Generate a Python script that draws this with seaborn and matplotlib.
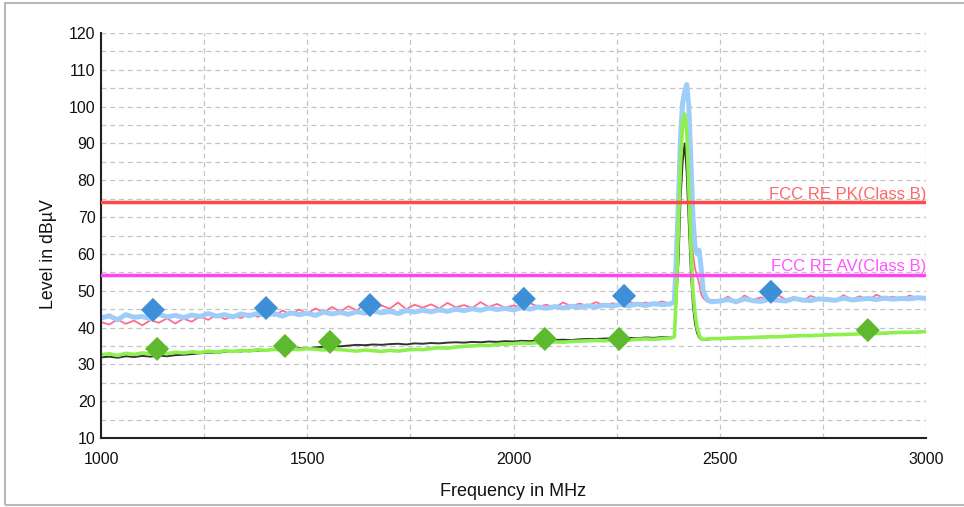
import numpy as np
import pandas as pd
import seaborn as sns
import matplotlib.pyplot as plt
from matplotlib.patches import Rectangle
from matplotlib.ticker import MultipleLocator, FixedLocator

# Frequency sampling grid (MHz)
freq_low = np.arange(1000, 2381, 20)
freq_peak = [2390, 2395, 2400, 2405, 2410, 2415, 2420, 2425, 2430, 2435, 2440, 2445, 2450, 2455, 2460, 2470, 2480]
freq_high = np.arange(2500, 3001, 20)
freq = np.concatenate([freq_low, freq_peak, freq_high])

# Peak trace (pink)
pk_low = [41.5, 40.8, 42.2, 41.0, 41.9, 40.6, 42.0, 41.3, 42.5, 41.1,
          42.4, 41.6, 43.0, 42.1, 43.4, 42.3, 43.1, 42.6, 43.8, 42.9,
          43.9, 43.2, 44.6, 43.5, 44.9, 43.8, 45.2, 44.1, 45.6, 44.3,
          45.8, 44.6, 46.5, 44.9, 46.0, 45.1, 46.8, 45.0, 46.2, 45.4,
          46.3, 45.2, 46.7, 45.5, 46.1, 45.3, 46.9, 45.6, 46.4, 45.4,
          46.0, 45.5, 46.6, 45.7, 46.2, 45.4, 46.8, 45.8, 46.5, 45.9,
          46.9, 46.0, 46.6, 46.2, 47.0, 46.3, 46.8, 46.4, 47.1, 46.5]
pk_peak = [46.5, 55, 70, 85, 93, 96, 95, 85, 70, 60, 56, 54, 52, 49, 48, 47, 47.5]
pk_high = [47.2, 48.4, 47.0, 48.7, 47.5, 48.2, 47.3, 48.9, 47.6, 48.3, 47.1, 48.6, 47.8,
           48.1, 47.4, 48.8, 47.7, 48.5, 47.5, 48.9, 47.9, 48.4, 47.6, 48.7, 48.0, 48.3]

# Max-hold trace (light blue)
mh_low = [42.6, 43.2, 42.1, 43.5, 42.8, 43.0, 42.4, 43.6, 42.9, 43.3,
          42.7, 43.4, 43.0, 43.8, 43.1, 43.5, 42.9, 43.7, 43.2, 43.9,
          43.4, 43.8, 43.1, 44.0, 43.5, 43.9, 43.3, 44.2, 43.7, 44.1,
          43.6, 44.3, 43.9, 44.5, 44.0, 44.4, 43.8, 44.6, 44.2, 44.7,
          44.3, 44.8, 44.4, 45.0, 44.6, 45.1, 44.7, 45.3, 44.9, 45.2,
          44.8, 45.4, 45.0, 45.6, 45.2, 45.7, 45.3, 45.8, 45.5, 45.9,
          45.6, 46.1, 45.8, 46.3, 45.9, 46.4, 46.0, 46.5, 46.2, 46.4]
mh_peak = [47, 60, 75, 92, 101, 104, 106, 100, 85, 70, 62, 60, 61, 56, 50, 47.5, 47]
mh_high = [47.2, 47.6, 47.0, 47.8, 47.3, 47.1, 47.7, 47.4, 47.2, 47.9, 47.5, 47.3, 47.8,
           47.6, 47.4, 48.0, 47.5, 47.7, 47.9, 47.6, 48.0, 47.7, 47.9, 47.8, 48.1, 47.9]

# Average trace (dark gray)
av_low = [31.9, 32.1, 31.8, 32.2, 32.0, 32.3, 32.1, 32.4, 32.2, 32.5,
          32.6, 32.8, 33.0, 33.2, 33.1, 33.4, 33.6, 33.5, 33.8, 33.7,
          33.9, 34.0, 34.2, 34.1, 34.4, 34.3, 34.6, 34.8, 35.0, 34.9,
          35.1, 35.3, 35.2, 35.4, 35.3, 35.5, 35.6, 35.4, 35.7, 35.6,
          35.8, 35.7, 35.9, 36.0, 35.9, 36.1, 36.0, 36.2, 36.1, 36.3,
          36.2, 36.4, 36.3, 36.5, 36.4, 36.6, 36.7, 36.6, 36.8, 36.9,
          36.9, 37.0, 37.1, 37.0, 37.2, 37.1, 37.3, 37.2, 37.4, 37.3]
av_peak = [37.5, 48, 58, 75, 85, 90, 82, 68, 55, 46, 41, 38.5, 37.3, 36.8, 36.6, 36.7, 36.9]
av_high = [37.0, 37.2, 37.1, 37.3, 37.2, 37.4, 37.4, 37.6, 37.5, 37.7, 37.7, 37.9, 37.8,
           38.1, 38.0, 38.2, 38.1, 38.4, 38.3, 38.5, 38.4, 38.7, 38.6, 38.8, 38.7, 38.9]

# Average max-hold trace (green)
ag_low = [32.6, 32.9, 32.4, 33.0, 32.7, 33.1, 32.8, 33.2, 32.9, 33.3,
          33.1, 33.4, 33.2, 33.6, 33.3, 33.7, 33.5, 33.8, 33.6, 34.0,
          33.8, 34.1, 33.9, 34.2, 34.0, 34.3, 34.1, 33.9, 34.2, 34.0,
          33.8, 33.6, 33.9, 33.7, 33.5, 33.8, 33.6, 33.9, 34.1, 34.0,
          34.3, 34.5, 34.4, 34.7, 34.9, 35.0, 35.2, 35.1, 35.4, 35.5,
          35.6, 35.8, 35.7, 35.9, 36.0, 36.1, 36.0, 36.2, 36.3, 36.4,
          36.5, 36.4, 36.6, 36.7, 36.6, 36.8, 36.9, 36.8, 37.0, 37.1]
ag_peak = [37.5, 50, 68, 85, 96, 98, 93, 78, 62, 50, 44, 40, 38, 37, 36.8, 36.9, 37]
ag_high = [37.0, 37.1, 37.2, 37.2, 37.3, 37.4, 37.5, 37.5, 37.6, 37.7, 37.8, 37.8, 37.9,
           38.0, 38.1, 38.1, 38.2, 38.3, 38.4, 38.4, 38.5, 38.6, 38.7, 38.7, 38.8, 38.9]

# Final measurement markers
pk_mark_f = [1126, 1400, 1652, 2025, 2268, 2624]
pk_mark_v = [44.8, 45.3, 46.1, 47.8, 48.6, 49.7]
av_mark_f = [1136, 1446, 1555, 2076, 2256, 2859]
av_mark_v = [34.2, 35.0, 36.1, 36.9, 36.9, 39.3]

# Limit lines
limit_pk = 74.0
limit_av = 54.3

traces = pd.DataFrame({
    'freq': freq,
    'pk': pk_low + pk_peak + pk_high,
    'mh': mh_low + mh_peak + mh_high,
    'av': av_low + av_peak + av_high,
    'ag': ag_low + ag_peak + ag_high,
})
marks_pk = pd.DataFrame({'freq': pk_mark_f, 'level': pk_mark_v})
marks_av = pd.DataFrame({'freq': av_mark_f, 'level': av_mark_v})

sns.set_style("white")
plt.rcParams['font.family'] = ['Liberation Sans', 'DejaVu Sans']

fig = plt.figure(figsize=(9.64, 5.07), dpi=100)
ax = fig.add_axes([101 / 964, 1 - 438 / 507, 825 / 964, 405 / 507])

# frame around the whole picture (right side runs off the image)
fig.patches.append(Rectangle((5 / 964, 2 / 507), 965 / 964, 502 / 507, transform=fig.transFigure,
                             fill=False, edgecolor='#b8b8b8', lw=1.5))

sns.lineplot(data=traces, x='freq', y='pk', ax=ax, color='#ff6b8e', lw=1.3)
sns.lineplot(data=traces, x='freq', y='mh', ax=ax, color='#9fcdfa', lw=3.6)
sns.lineplot(data=traces, x='freq', y='av', ax=ax, color='#333333', lw=1.4)
sns.lineplot(data=traces, x='freq', y='ag', ax=ax, color='#8ef04c', lw=2.6)

ax.axhline(limit_pk, color='#ff4848', lw=2.5, zorder=3)
ax.axhline(limit_av, color='#ff44f0', lw=2.5, zorder=3)
ax.text(3000, limit_pk + 1.0, 'FCC RE PK(Class B)', color='#ff6666', ha='right', va='baseline', fontsize=12)
ax.text(3000, limit_av + 1.0, 'FCC RE AV(Class B)', color='#ff55ff', ha='right', va='baseline', fontsize=12)

sns.scatterplot(data=marks_pk, x='freq', y='level', ax=ax, marker='D', s=150, color='#3d8fd8',
                edgecolor='none', zorder=5)
sns.scatterplot(data=marks_av, x='freq', y='level', ax=ax, marker='D', s=150, color='#5dba2e',
                edgecolor='none', zorder=5)

ax.set_xlim(1000, 3000)
ax.set_ylim(10, 120)
ax.xaxis.set_major_locator(FixedLocator([1000, 1500, 2000, 2500, 3000]))
ax.xaxis.set_minor_locator(FixedLocator([1250, 1750, 2250, 2750]))
ax.yaxis.set_major_locator(MultipleLocator(10))
ax.yaxis.set_minor_locator(MultipleLocator(5))
ax.tick_params(which='both', direction='inout', length=8, width=1.3, color='#222222')
ax.tick_params(axis='x', which='major', pad=6, labelsize=11.5, labelcolor='#111111')
ax.tick_params(axis='y', which='major', pad=0, labelsize=11.5, labelcolor='#111111')

ax.grid(True, which='both', color='#c4c4c4', ls=(0, (4, 3)), lw=0.9)
ax.set_axisbelow(True)

for side in ['top', 'right']:
    ax.spines[side].set_visible(False)
for side in ['left', 'bottom']:
    ax.spines[side].set_color('#222222')
    ax.spines[side].set_linewidth(1.5)

ax.set_xlabel('Frequency in MHz', fontsize=13, color='#111111')
ax.set_ylabel('Level in dBµV', fontsize=12.8, color='#111111')
ax.xaxis.label.set_va('center')
ax.yaxis.label.set_va('center')
ax.xaxis.set_label_coords(0.5, -0.131)
ax.yaxis.set_label_coords(-0.064, 0.455)

plt.savefig('out.png', dpi=100)
